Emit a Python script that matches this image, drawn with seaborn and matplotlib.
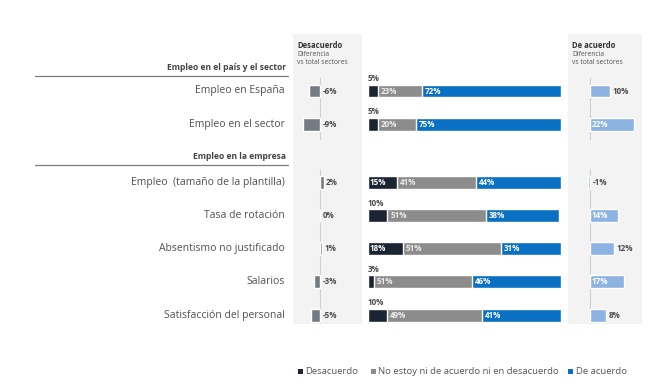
import numpy as np
import pandas as pd
import matplotlib
matplotlib.use("Agg")
import matplotlib.pyplot as plt
import seaborn as sns
from matplotlib.patches import Rectangle

# ---------------- data ----------------
categories = ["Empleo en España", "Empleo en el sector",
              "Empleo  (tamaño de la plantilla)", "Tasa de rotación",
              "Absentismo no justificado", "Salarios", "Satisfacción del personal"]
group_names = ["Empleo en el país y el sector", "Empleo en la empresa"]
group_of = [0, 0, 1, 1, 1, 1, 1]
desacuerdo = [5, 5, 15, 10, 18, 3, 10]
neutral = [23, 20, 41, 51, 51, 51, 49]
acuerdo = [72, 75, 44, 38, 31, 46, 41]
diff_desacuerdo = [-6, -9, 2, 0, 1, -3, -5]
diff_acuerdo = [10, 22, -1, 14, 12, 17, 8]
legend_labels = ["Desacuerdo", "No estoy ni de acuerdo ni en desacuerdo", "De acuerdo"]
left_header = ["Desacuerdo", "Diferencia", "vs total sectores"]
right_header = ["De acuerdo", "Diferencia", "vs total sectores"]

# ---------------- style ----------------
sns.set_theme(style="white")
plt.rcParams["font.family"] = ["Open Sans", "DejaVu Sans"]

C_DARK = "#1b2432"
C_GRAY = "#8c8c8c"
C_BLUE = "#0a70c4"
C_LEFT = "#757a84"
C_RIGHT = "#8db3e3"
C_TEXT = "#4a4a4a"
C_PANEL = "#f3f3f3"
LEG_COLORS = [C_DARK, C_GRAY, C_BLUE]

W, H = 650, 382
fig = plt.figure(figsize=(6.5, 3.82), dpi=100)


def fx(px):
    return px / W


def fy(py):
    return 1 - py / H


def add_ax(x0, x1, y0, y1):
    return fig.add_axes([fx(x0), fy(y1), fx(x1) - fx(x0), fy(y0) - fy(y1)])


# row positions (layout): gap between groups
pos = [i + 0.75 * g for i, g in enumerate(group_of)]
row0_px, row_step = 91, 33.2
Y_TOP, Y_BOT = 34, 324
ylim = ((Y_BOT - row0_px) / row_step, (Y_TOP - row0_px) / row_step)
BAR_W = 0.39
VAL_FS = 5.8

df = pd.DataFrame({"cat": categories, "pos": pos, "d": desacuerdo,
                   "n": neutral, "a": acuerdo,
                   "dd": diff_desacuerdo, "da": diff_acuerdo})
df["dn"] = df["d"] + df["n"]
df["tot"] = df["dn"] + df["a"]

# ---------------- axes ----------------
axL = add_ax(293, 362, Y_TOP, Y_BOT)
axM = add_ax(362, 568, Y_TOP, Y_BOT)
axR = add_ax(568, 642, Y_TOP, Y_BOT)


def zero_lines(ax):
    for g in (0, 1):
        ps = [p for p, gg in zip(pos, group_of) if gg == g]
        y_lo = min(ps) - 0.4
        y_hi = max(ps) + 0.45 if g == 0 else ylim[0]
        ax.plot([0, 0], [y_lo, y_hi], color="#cfcfcf", lw=0.8, zorder=2)


# ---------------- left diff panel ----------------
axL.add_patch(Rectangle((0, 0), 1, 1, transform=axL.transAxes, color=C_PANEL, zorder=0))
left_scale = 1.9  # px per %
axL.set_xlim(-(320 - 293) / left_scale, (362 - 320) / left_scale)
sns.barplot(data=df, x="dd", y="pos", orient="h", native_scale=True,
            width=BAR_W, color=C_LEFT, saturation=1, errorbar=None, ax=axL, zorder=3)
axL.set_ylim(*ylim)
axL.axis("off")
zero_lines(axL)
for p, v in zip(pos, diff_desacuerdo):
    axL.text(max(v, 0) + 1.2, p, f"{v}%", va="center", ha="left",
             fontsize=VAL_FS, color=C_TEXT, fontweight="bold")

# ---------------- main stacked panel ----------------
main_scale = 1.93
axM.set_xlim(-(368 - 362) / main_scale, 100 + (568 - 561) / main_scale)
for col, colr in (("tot", C_BLUE), ("dn", C_GRAY), ("d", C_DARK)):
    sns.barplot(data=df, x=col, y="pos", orient="h", native_scale=True,
                width=BAR_W, color=colr, saturation=1, errorbar=None, ax=axM)
axM.set_ylim(*ylim)
axM.axis("off")
for p, d, n, a in zip(pos, desacuerdo, neutral, acuerdo):
    if d > 10:
        axM.text(1, p, f"{d}%", va="center", ha="left", fontsize=VAL_FS,
                 color="white", fontweight="bold")
    else:
        axM.text(0, p - BAR_W / 2 - 0.04, f"{d}%", va="bottom", ha="left",
                 fontsize=VAL_FS, color=C_TEXT, fontweight="bold")
    axM.text(d + 1.5, p, f"{n}%", va="center", ha="left", fontsize=VAL_FS,
             color="white", fontweight="bold", alpha=0.85)
    axM.text(d + n + 1.5, p, f"{a}%", va="center", ha="left", fontsize=VAL_FS,
             color="white", fontweight="bold")

# ---------------- right diff panel ----------------
axR.add_patch(Rectangle((0, 0), 1, 1, transform=axR.transAxes, color=C_PANEL, zorder=0))
right_scale = 2.0
axR.set_xlim(-(590 - 568) / right_scale, (642 - 590) / right_scale)
sns.barplot(data=df, x="da", y="pos", orient="h", native_scale=True,
            width=BAR_W, color=C_RIGHT, saturation=1, errorbar=None, ax=axR, zorder=3)
axR.set_ylim(*ylim)
axR.axis("off")
zero_lines(axR)
for p, v in zip(pos, diff_acuerdo):
    if v >= 14:
        axR.text(0.6, p, f"{v}%", va="center", ha="left", fontsize=VAL_FS,
                 color="white", fontweight="bold", zorder=4)
    else:
        axR.text(max(v, 0) + 1.3, p, f"{v}%", va="center", ha="left",
                 fontsize=VAL_FS, color=C_TEXT, fontweight="bold", zorder=4)

# ---------------- headers ----------------
for x0, lines in ((297, left_header), (572, right_header)):
    fig.text(fx(x0), fy(45), lines[0], fontsize=5.5, fontweight="bold",
             color="#333333", va="center", ha="left")
    fig.text(fx(x0), fy(54), lines[1], fontsize=4.9, color="#555555",
             va="center", ha="left")
    fig.text(fx(x0), fy(63), lines[2], fontsize=4.9, color="#555555",
             va="center", ha="left")

# ---------------- category labels & section headers ----------------
for p, c in zip(pos, categories):
    fig.text(fx(285), fy(row0_px + p * row_step), c, fontsize=7.5,
             color="#505050", va="center", ha="right")

section_y = [68, 157]
for g, name in enumerate(group_names):
    fig.text(fx(286), fy(section_y[g]), name, fontsize=6.1, fontweight="bold",
             color="#444444", va="center", ha="right")
    fig.add_artist(plt.Line2D([fx(35), fx(288)], [fy(section_y[g] + 8)] * 2,
                              color="#7a7a7a", lw=0.9))

# ---------------- legend ----------------
leg_x = [298, 371, 568]
for x0, lab, colr in zip(leg_x, legend_labels, LEG_COLORS):
    fig.add_artist(Rectangle((fx(x0), fy(373.5)), fx(5), fy(0) - fy(5),
                             transform=fig.transFigure, color=colr, lw=0))
    fig.text(fx(x0 + 7.5), fy(371), lab, fontsize=6.8, color="#555555",
             va="center", ha="left")

fig.savefig("out.png", dpi=100, facecolor="white")
